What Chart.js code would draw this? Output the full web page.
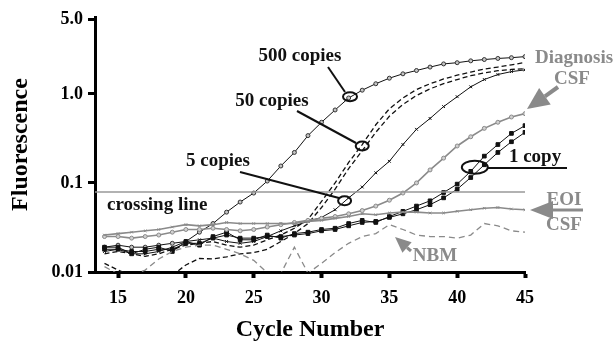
<!DOCTYPE html>
<html>
<head>
<meta charset="utf-8">
<script src="https://cdn.jsdelivr.net/npm/chart.js@4.4.0/dist/chart.umd.min.js"></script>
<style>
  body { margin: 0; background: #fff; }
  canvas { display: block; }
</style>
</head>
<body>
<canvas id="pcrChart" width="616" height="343"></canvas>
<script>
// PCR amplification curves, one value per cycle (14 .. 45)
var cycles = [14, 15, 16, 17, 18, 19, 20, 21, 22, 23, 24, 25, 26, 27, 28, 29,
              30, 31, 32, 33, 34, 35, 36, 37, 38, 39, 40, 41, 42, 43, 44, 45];

var copies500 = [0.019, 0.020, 0.019, 0.019, 0.020, 0.021, 0.022, 0.028, 0.035, 0.047, 0.061, 0.077, 0.105, 0.155, 0.22, 0.34,
                 0.48, 0.66, 0.90, 1.10, 1.30, 1.50, 1.68, 1.83, 2.00, 2.17, 2.24, 2.35, 2.43, 2.50, 2.55, 2.62];
var copies50a = [0.016, 0.017, 0.016, 0.015, 0.016, 0.018, 0.020, 0.021, 0.022, 0.020, 0.019, 0.020, 0.023, 0.026, 0.031, 0.039,
                 0.062, 0.10, 0.17, 0.27, 0.45, 0.68, 0.90, 1.12, 1.30, 1.47, 1.62, 1.76, 1.90, 2.00, 2.12, 2.25];
var copies50b = [0.0125, 0.0105, 0.009, 0.008, 0.008, 0.0092, 0.012, 0.0142, 0.014, 0.0148, 0.016, 0.0165, 0.018, 0.022, 0.027, 0.035,
                 0.053, 0.085, 0.145, 0.23, 0.37, 0.56, 0.76, 0.96, 1.14, 1.30, 1.45, 1.60, 1.72, 1.82, 1.88, 1.92];
var copies5 = [0.017, 0.018, 0.016, 0.016, 0.017, 0.019, 0.022, 0.023, 0.024, 0.022, 0.021, 0.022, 0.025, 0.029, 0.033, 0.037,
               0.041, 0.050, 0.068, 0.090, 0.13, 0.175, 0.27, 0.40, 0.53, 0.72, 0.93, 1.20, 1.45, 1.65, 1.78, 1.86];
var copy1a = [0.019, 0.019, 0.016, 0.018, 0.019, 0.017, 0.022, 0.020, 0.025, 0.028, 0.023, 0.023, 0.026, 0.024, 0.027, 0.028,
              0.030, 0.031, 0.035, 0.038, 0.036, 0.042, 0.048, 0.055, 0.063, 0.078, 0.097, 0.135, 0.20, 0.27, 0.36, 0.44];
var copy1b = [0.018, 0.018, 0.017, 0.017, 0.018, 0.018, 0.021, 0.021, 0.024, 0.026, 0.024, 0.024, 0.025, 0.025, 0.026, 0.027,
              0.029, 0.030, 0.033, 0.036, 0.037, 0.041, 0.045, 0.050, 0.057, 0.068, 0.085, 0.115, 0.16, 0.22, 0.29, 0.37];
var diagnosisCsf = [0.025, 0.025, 0.024, 0.025, 0.026, 0.028, 0.030, 0.030, 0.031, 0.030, 0.029, 0.030, 0.032, 0.034, 0.036, 0.038,
                    0.040, 0.042, 0.045, 0.049, 0.055, 0.064, 0.077, 0.10, 0.14, 0.19, 0.26, 0.33, 0.41, 0.48, 0.55, 0.60];
var eoiCsf = [0.026, 0.027, 0.028, 0.029, 0.030, 0.032, 0.034, 0.033, 0.034, 0.036, 0.035, 0.035, 0.035, 0.035, 0.035, 0.037,
              0.038, 0.040, 0.042, 0.045, 0.044, 0.046, 0.047, 0.047, 0.046, 0.046, 0.048, 0.050, 0.052, 0.053, 0.051, 0.050];
var nbm = [0.0115, 0.0095, 0.0092, 0.0105, 0.014, 0.017, 0.019, 0.020, 0.020, 0.018, 0.016, 0.0135, 0.0098, 0.0096, 0.019, 0.0097,
           0.0125, 0.0165, 0.021, 0.025, 0.027, 0.034, 0.030, 0.026, 0.025, 0.025, 0.024, 0.026, 0.035, 0.033, 0.029, 0.028];

var crossingLine = 0.079;
var xTicks = [15, 20, 25, 30, 35, 40, 45];
var yTickValues = [0.01, 0.1, 1, 6.8];
var yTickLabels = ['0.01', '0.1', '1.0', '5.0'];

var SERIF = '"Liberation Serif", "Times New Roman", serif';
var BLACK = '#111';
var GRAY = '#8a8a8a';

function points(values) {
  return cycles.map(function(c, i) { return { x: c, y: values[i] }; });
}

var notes = {
  ellipses: [
    { cycle: 32.1, value: 0.93, rx: 7, ry: 4.5 },
    { cycle: 33.0, value: 0.26, rx: 6.5, ry: 4.5 },
    { cycle: 31.7, value: 0.063, rx: 6.5, ry: 4.5 },
    { cycle: 41.3, value: 0.15, rx: 13, ry: 6.5 }
  ],
  leaders: [
    [328, 67, 345, 92],
    [297, 111, 356, 143],
    [240, 172, 339, 198],
    [488, 168, 567, 168]
  ],
  blackText: [
    { text: '500 copies', x: 300, y: 61 },
    { text: '50 copies', x: 272, y: 106 },
    { text: '5 copies', x: 218, y: 166 },
    { text: '1 copy', x: 535, y: 162 }
  ],
  grayText: [
    { text: 'Diagnosis', x: 574, y: 63 },
    { text: 'CSF', x: 572, y: 84 },
    { text: 'EOI', x: 564, y: 205 },
    { text: 'CSF', x: 564, y: 230 },
    { text: 'NBM', x: 435, y: 261 }
  ]
};

function arrow(ctx, x1, y1, x2, y2, head, half, width) {
  var a = Math.atan2(y2 - y1, x2 - x1);
  var bx = x2 - head * Math.cos(a), by = y2 - head * Math.sin(a);
  ctx.lineWidth = width;
  ctx.beginPath();
  ctx.moveTo(x1, y1);
  ctx.lineTo(bx, by);
  ctx.stroke();
  ctx.beginPath();
  ctx.moveTo(x2, y2);
  ctx.lineTo(bx + half * Math.sin(a), by - half * Math.cos(a));
  ctx.lineTo(bx - half * Math.sin(a), by + half * Math.cos(a));
  ctx.closePath();
  ctx.fill();
}

var notesPlugin = {
  id: 'pcrNotes',
  afterDatasetsDraw: function(chart) {
    var ctx = chart.ctx;
    var xs = chart.scales.x, ys = chart.scales.y;
    ctx.save();
    ctx.strokeStyle = BLACK;
    ctx.lineWidth = 2;
    notes.ellipses.forEach(function(e) {
      ctx.beginPath();
      ctx.ellipse(xs.getPixelForValue(e.cycle), ys.getPixelForValue(e.value), e.rx, e.ry, 0, 0, 2 * Math.PI);
      ctx.stroke();
    });
    notes.leaders.forEach(function(l) {
      ctx.beginPath();
      ctx.moveTo(l[0], l[1]);
      ctx.lineTo(l[2], l[3]);
      ctx.stroke();
    });

    ctx.font = 'bold 19px ' + SERIF;
    ctx.textAlign = 'center';
    ctx.textBaseline = 'alphabetic';
    ctx.fillStyle = BLACK;
    notes.blackText.forEach(function(t) { ctx.fillText(t.text, t.x, t.y); });
    ctx.textAlign = 'left';
    ctx.fillText('crossing line', 107, 210);

    ctx.textAlign = 'center';
    ctx.fillStyle = GRAY;
    notes.grayText.forEach(function(t) { ctx.fillText(t.text, t.x, t.y); });

    ctx.strokeStyle = GRAY;
    arrow(ctx, 558, 87, 527, 109, 22, 10, 4);
    arrow(ctx, 583, 210, 530, 210, 23, 9, 3);
    arrow(ctx, 411, 251, 395, 237, 16, 7, 3);
    ctx.restore();
  }
};

var ctx = document.getElementById('pcrChart').getContext('2d');

var pcrChart = new Chart(ctx, {
  type: 'line',
  data: {
    datasets: [
      {
        label: 'NBM',
        data: points(nbm),
        borderColor: GRAY, borderWidth: 1.3, borderDash: [6, 4],
        pointRadius: 0
      },
      {
        label: 'EOI CSF',
        data: points(eoiCsf),
        borderColor: GRAY, borderWidth: 1.6,
        pointStyle: 'crossRot', pointRadius: 1.8, pointBorderColor: GRAY, pointBorderWidth: 1
      },
      {
        label: 'crossing line',
        data: [{ x: 13.3, y: crossingLine }, { x: 45, y: crossingLine }],
        borderColor: '#999', borderWidth: 1.5,
        pointRadius: 0
      },
      {
        label: 'Diagnosis CSF',
        data: points(diagnosisCsf),
        borderColor: GRAY, borderWidth: 1.6,
        pointStyle: 'circle', pointRadius: 2, pointBackgroundColor: '#d0d0d0', pointBorderColor: GRAY, pointBorderWidth: 1
      },
      {
        label: '1 copy',
        data: points(copy1a),
        borderColor: BLACK, borderWidth: 1,
        pointStyle: 'rect', pointRadius: 2.6, pointBackgroundColor: BLACK, pointBorderColor: BLACK
      },
      {
        label: '1 copy',
        data: points(copy1b),
        borderColor: BLACK, borderWidth: 1,
        pointStyle: 'rect', pointRadius: 2.6, pointBackgroundColor: BLACK, pointBorderColor: BLACK
      },
      {
        label: '5 copies',
        data: points(copies5),
        borderColor: BLACK, borderWidth: 1,
        pointStyle: 'crossRot', pointRadius: 2, pointBorderColor: BLACK, pointBorderWidth: 1
      },
      {
        label: '50 copies',
        data: points(copies50b),
        borderColor: BLACK, borderWidth: 1.3, borderDash: [5, 3],
        pointRadius: 0
      },
      {
        label: '50 copies',
        data: points(copies50a),
        borderColor: BLACK, borderWidth: 1.3, borderDash: [5, 3],
        pointRadius: 0
      },
      {
        label: '500 copies',
        data: points(copies500),
        borderColor: BLACK, borderWidth: 1,
        pointStyle: 'circle', pointRadius: 2, pointBackgroundColor: '#c4c4c4', pointBorderColor: '#333', pointBorderWidth: 1
      }
    ]
  },
  options: {
    responsive: false,
    animation: false,
    layout: { padding: { top: 17, right: 91, left: 0, bottom: 0 } },
    plugins: {
      legend: { display: false },
      tooltip: { enabled: false }
    },
    scales: {
      x: {
        type: 'linear',
        min: 13.3,
        max: 45,
        afterBuildTicks: function(scale) {
          scale.ticks = xTicks.map(function(v) { return { value: v }; });
        },
        afterFit: function(scale) { scale.height = 71; },
        grid: { display: true, drawOnChartArea: false, drawTicks: true, tickLength: 6, tickWidth: 4, tickColor: '#000' },
        border: { display: true, color: '#000', width: 3 },
        ticks: {
          color: '#000', padding: 10, maxRotation: 0, autoSkip: false,
          font: { family: SERIF, size: 18, weight: 'bold' }
        },
        title: {
          display: true, text: 'Cycle Number', color: '#000',
          font: { family: SERIF, size: 24, weight: 'bold', lineHeight: 1 },
          padding: { top: 0, bottom: 1 }
        }
      },
      y: {
        type: 'logarithmic',
        min: 0.01,
        max: 7.3,
        afterBuildTicks: function(scale) {
          scale.ticks = yTickValues.map(function(v) { return { value: v }; });
        },
        afterFit: function(scale) { scale.width = 95; },
        grid: { display: true, drawOnChartArea: false, drawTicks: true, tickLength: 7, tickWidth: 3, tickColor: '#000' },
        border: { display: true, color: '#000', width: 3 },
        ticks: {
          color: '#000', padding: 5, autoSkip: false,
          font: { family: SERIF, size: 18, weight: 'bold' },
          callback: function(value, index) { return yTickLabels[index]; }
        },
        title: {
          display: true, text: 'Fluorescence', color: '#000',
          font: { family: SERIF, size: 24, weight: 'bold', lineHeight: 1 },
          padding: { top: 9, bottom: 0 }
        }
      }
    }
  },
  plugins: [notesPlugin]
});
</script>
</body>
</html>
